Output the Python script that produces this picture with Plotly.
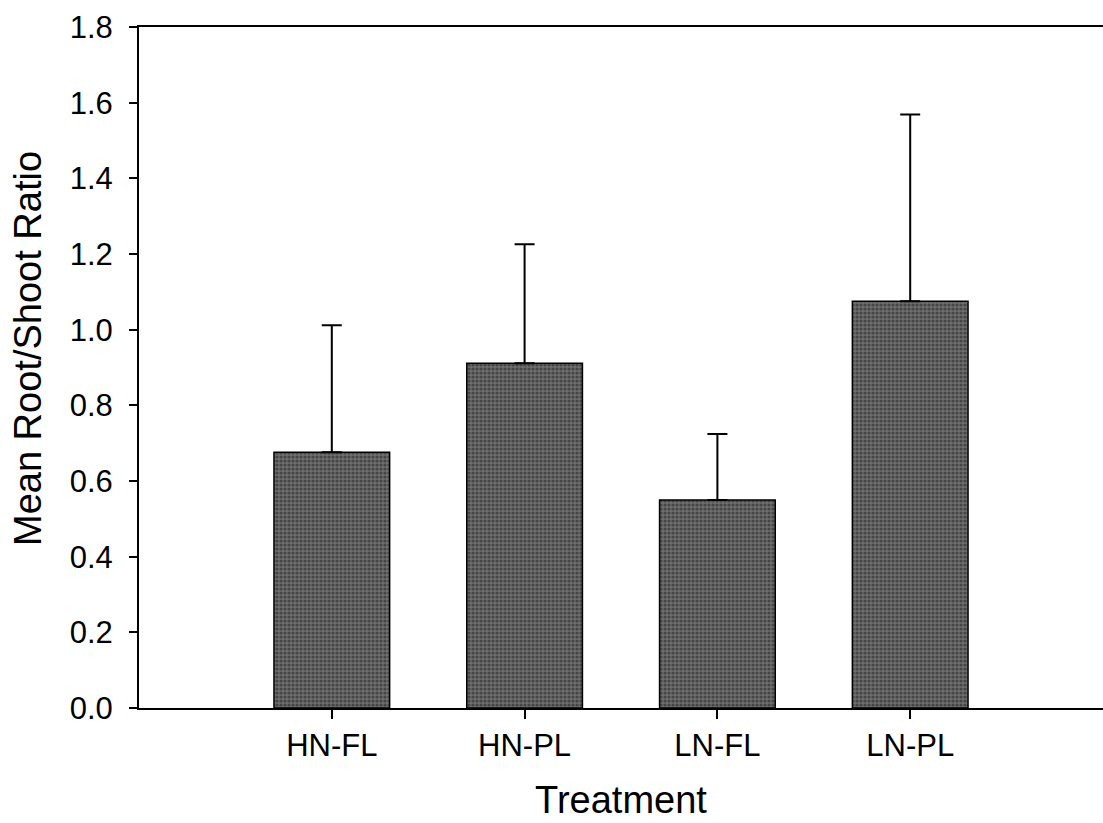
import plotly.graph_objects as go

# Treatment groups and mean root/shoot ratios with upper error (SE)
treatments = ["HN-FL", "HN-PL", "LN-FL", "LN-PL"]
mean_ratio = [0.676, 0.911, 0.550, 1.075]
upper_err = [0.336, 0.315, 0.174, 0.494]
y_ticks = [0.0, 0.2, 0.4, 0.6, 0.8, 1.0, 1.2, 1.4, 1.6, 1.8]

FONT = "Liberation Sans, Arial, sans-serif"

fig = go.Figure()
fig.add_trace(go.Bar(
    x=list(range(len(treatments))),
    y=mean_ratio,
    width=0.6,
    marker=dict(
        color="#6a6a6a",
        line=dict(color="#000000", width=1.5),
        pattern=dict(shape=".", fgcolor="#1c1c1c", bgcolor="#6e6e6e",
                     size=4, solidity=0.5),
    ),
    error_y=dict(type="data", symmetric=False, array=upper_err,
                 arrayminus=[0] * len(upper_err),
                 color="#000000", thickness=2, width=10),
    showlegend=False,
))

fig.update_layout(
    width=1103, height=823,
    margin=dict(l=139, r=0, t=27, b=115),
    paper_bgcolor="white", plot_bgcolor="white",
    font=dict(family=FONT, color="#000000"),
    bargap=0.4,
)

fig.update_xaxes(
    range=[-1.0, 4.0],
    tickmode="array",
    tickvals=list(range(len(treatments))),
    ticktext=treatments,
    ticks="outside", ticklen=9, tickwidth=1.5, tickcolor="#000000",
    tickfont=dict(size=31, family=FONT),
    showline=True, linecolor="#000000", linewidth=2, mirror=True,
    showgrid=False, zeroline=False,
    title=dict(text="Treatment", font=dict(size=38, family=FONT), standoff=24),
)

fig.update_yaxes(
    range=[0, 1.8],
    tickmode="array",
    tickvals=y_ticks,
    ticktext=[f"{v:.1f}" for v in y_ticks],
    ticks="outside", ticklen=8, tickwidth=1.5, tickcolor="#000000",
    tickfont=dict(size=31, family=FONT),
    ticklabelstandoff=10,
    showline=True, linecolor="#000000", linewidth=2, mirror=False,
    showgrid=False, zeroline=False,
)

# Vertical axis title placed a little above the axis midpoint
fig.add_annotation(
    text="Mean Root/Shoot Ratio",
    xref="paper", yref="paper",
    x=-111 / 964, y=(708 - 349) / 681,
    xanchor="center", yanchor="middle",
    textangle=-90, showarrow=False,
    font=dict(size=38, family=FONT, color="#000000"),
)

fig.write_html("out.html")
